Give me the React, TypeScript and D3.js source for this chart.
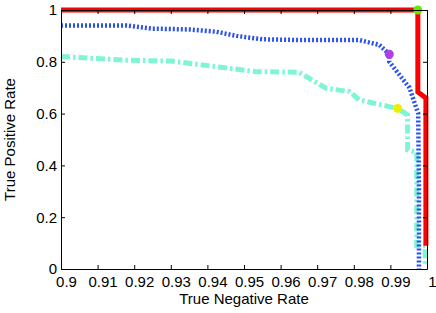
import React, { useEffect, useRef } from "react";
import * as d3 from "d3";

// tick values
const xTicks = [0.9, 0.91, 0.92, 0.93, 0.94, 0.95, 0.96, 0.97, 0.98, 0.99, 1];
const yTicks = [0, 0.2, 0.4, 0.6, 0.8, 1];

// red curve
const redX = [0.9, 0.9975, 0.9975, 0.9997, 0.9997];
const redY = [1, 1, 0.683, 0.66, 0.09];

// blue dotted curve
const blueX = [0.9, 0.918, 0.925, 0.935, 0.9424, 0.948, 0.955, 0.965, 0.975, 0.9815, 0.987, 0.9897, 0.9897, 0.9952, 0.9976, 0.9978, 0.9978];
const blueY = [0.94, 0.94, 0.928, 0.925, 0.916, 0.9, 0.887, 0.884, 0.884, 0.884, 0.865, 0.829, 0.8, 0.7, 0.6, 0.3, 0];

// cyan dash-dot curve
const cyanX = [0.9, 0.918, 0.93, 0.9424, 0.9533, 0.965, 0.9724, 0.9788, 0.9815, 0.9897, 0.992, 0.9947, 0.9947, 0.9972, 0.9972, 0.9995, 0.9995];
const cyanY = [0.82, 0.806, 0.803, 0.781, 0.762, 0.76, 0.698, 0.685, 0.653, 0.627, 0.62, 0.595, 0.46, 0.45, 0.09, 0.09, 0.01];

// highlighted points
const dotX = [0.9975, 0.9897, 0.992];
const dotY = [1, 0.829, 0.62];
const dotColors = ["#66e600", "#b040e6", "#eeee00"];

const App = () => {
    const svgRef = useRef<SVGSVGElement>(null);

    useEffect(() => {
        const width = 436, height = 313;
        const left = 61, right = 427, top = 10, bottom = 269;
        const font = "'Liberation Sans', Arial, sans-serif";

        const svg = d3.select(svgRef.current)
            .attr("width", width)
            .attr("height", height);

        svg.selectAll("*").remove();

        svg.append("rect").attr("width", width).attr("height", height).attr("fill", "white");

        const x = d3.scaleLinear().domain([0.9, 1]).range([left, right]);
        const y = d3.scaleLinear().domain([0, 1]).range([bottom, top]);

        const line = d3.line<[number, number]>()
            .x(d => x(d[0]))
            .y(d => y(d[1]));

        const zip = (xs: number[], ys: number[]) => xs.map((v, i) => [v, ys[i]] as [number, number]);

        svg.append("path")
            .attr("d", line(zip(cyanX, cyanY)))
            .attr("fill", "none")
            .attr("stroke", "#7ff5d6")
            .attr("stroke-width", 5)
            .attr("stroke-dasharray", "9,3,2.5,3");

        svg.append("path")
            .attr("d", line(zip(blueX, blueY)))
            .attr("fill", "none")
            .attr("stroke", "#2a4ff2")
            .attr("stroke-width", 4.5)
            .attr("stroke-dasharray", "2,2");

        svg.append("path")
            .attr("d", line(zip(redX, redY)))
            .attr("fill", "none")
            .attr("stroke", "#ff0000")
            .attr("stroke-width", 5);

        svg.selectAll("circle.dot")
            .data(dotX)
            .enter()
            .append("circle")
            .attr("cx", d => x(d))
            .attr("cy", (d, i) => y(dotY[i]))
            .attr("r", 4.5)
            .attr("fill", (d, i) => dotColors[i]);

        // axes (box with inward ticks)
        const style = (g) => {
            g.select(".domain").attr("stroke", "#000");
            g.selectAll("line").attr("stroke", "#000");
            g.selectAll("text").attr("fill", "#000").style("font-family", font).style("font-size", "15px");
        };

        svg.append("g")
            .attr("transform", `translate(0,${bottom})`)
            .call(d3.axisBottom(x).tickValues(xTicks).tickSizeInner(-4).tickSizeOuter(0).tickPadding(7)
                .tickFormat(d => d3.format("")(+(+d).toFixed(2))))
            .call(style)
            .selectAll("text").attr("dx", 5);

        svg.append("g")
            .attr("transform", `translate(0,${top})`)
            .call(d3.axisTop(x).tickValues(xTicks).tickSizeInner(-4).tickSizeOuter(0).tickFormat(() => ""))
            .call(style);

        svg.append("g")
            .attr("transform", `translate(${left},0)`)
            .call(d3.axisLeft(y).tickValues(yTicks).tickSizeInner(-4).tickSizeOuter(0).tickPadding(4)
                .tickFormat(d => d3.format("")(+(+d).toFixed(1))))
            .call(style);

        svg.append("g")
            .attr("transform", `translate(${right},0)`)
            .call(d3.axisRight(y).tickValues(yTicks).tickSizeInner(-4).tickSizeOuter(0).tickFormat(() => ""))
            .call(style);

        svg.append("text")
            .attr("x", (left + right) / 2)
            .attr("y", 304)
            .attr("text-anchor", "middle")
            .style("font-family", font)
            .style("font-size", "15px")
            .text("True Negative Rate");

        svg.append("text")
            .attr("transform", `translate(15,${(top + bottom) / 2}) rotate(-90)`)
            .attr("text-anchor", "middle")
            .style("font-family", font)
            .style("font-size", "15px")
            .text("True Positive Rate");
    }, []);

    return <svg ref={svgRef} style={{ position: "absolute", left: 0, top: 0 }}></svg>;
};

export default App;
